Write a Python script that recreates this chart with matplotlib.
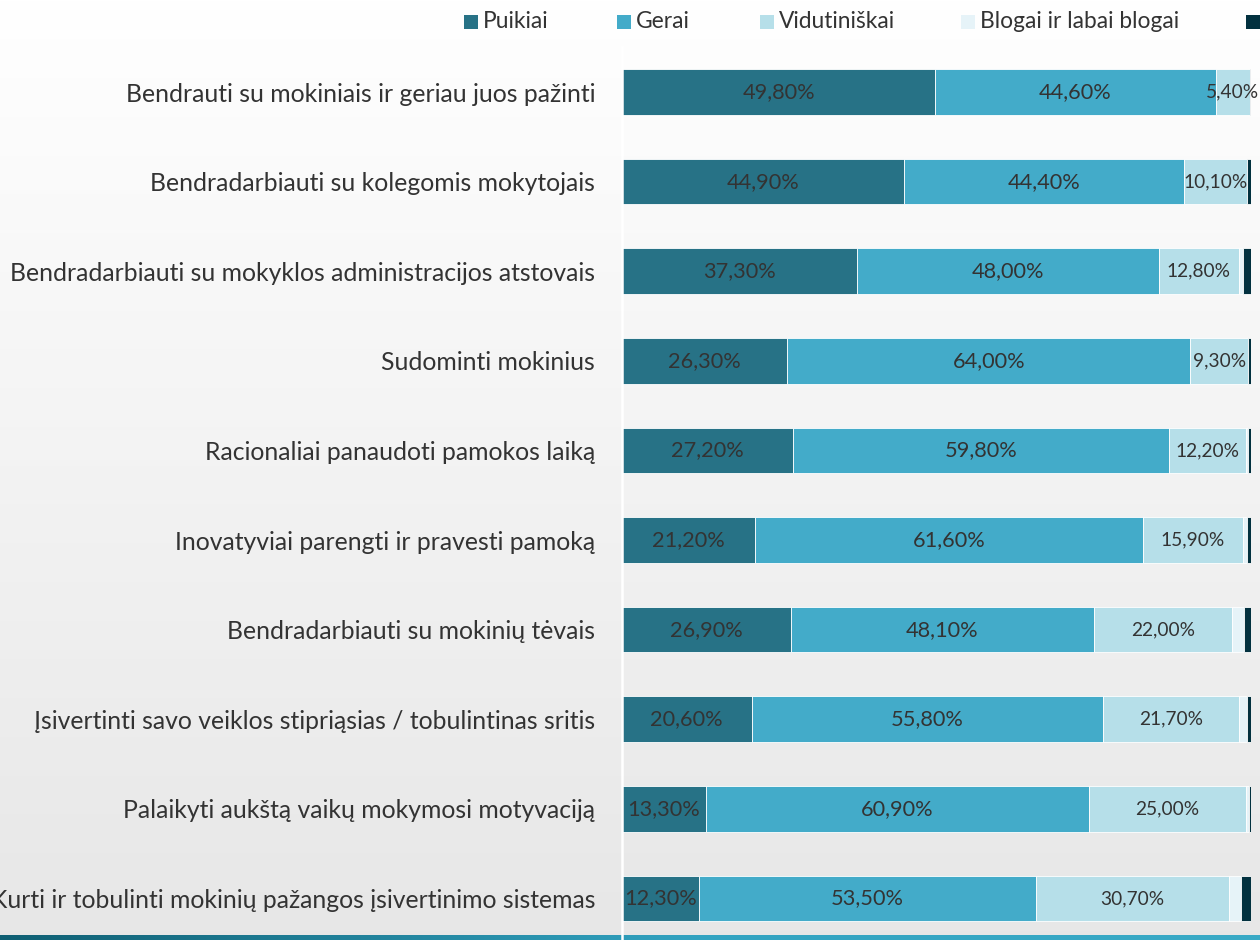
import numpy as np
import matplotlib
matplotlib.use("Agg")
import matplotlib.pyplot as plt
from matplotlib.patches import Rectangle

plt.rcParams['font.family'] = ['Lato', 'DejaVu Sans']

categories = [
    "Bendrauti su mokiniais ir geriau juos pažinti",
    "Bendradarbiauti su kolegomis mokytojais",
    "Bendradarbiauti su mokyklos administracijos atstovais",
    "Sudominti mokinius",
    "Racionaliai panaudoti pamokos laiką",
    "Inovatyviai parengti ir pravesti pamoką",
    "Bendradarbiauti su mokinių tėvais",
    "Įsivertinti savo veiklos stipriąsias / tobulintinas sritis",
    "Palaikyti aukštą vaikų mokymosi motyvaciją",
    "Kurti ir tobulinti mokinių pažangos įsivertinimo sistemas",
]
series_names = ["Puikiai", "Gerai", "Vidutiniškai", "Blogai ir labai blogai", "Kita"]
puikiai = [49.8, 44.9, 37.3, 26.3, 27.2, 21.2, 26.9, 20.6, 13.3, 12.3]
gerai = [44.6, 44.4, 48.0, 64.0, 59.8, 61.6, 48.1, 55.8, 60.9, 53.5]
vidutiniskai = [5.4, 10.1, 12.8, 9.3, 12.2, 15.9, 22.0, 21.7, 25.0, 30.7]
blogai = [0.0, 0.0, 0.6, 0.0, 0.3, 0.6, 1.9, 1.3, 0.5, 1.9]
kita = [0.3, 0.6, 1.3, 0.4, 0.5, 0.7, 1.1, 0.6, 0.3, 1.6]
colors = ["#277286", "#43abc9", "#b6dfe9", "#e6f3f8", "#02313f"]
labelled = [True, True, True, False, False]

W, H = 1260, 940
fig = plt.figure(figsize=(W / 100, H / 100), dpi=100)

# background gradient + bottom teal line
rows = np.linspace(0, 1, H)
g = 1.0 - 0.095 * rows
bg = np.ones((H, W, 3)) * g[:, None, None]
xs = np.arange(W)
r = np.interp(xs, [0, 700, W], [15, 50, 58]) / 255
gg = np.interp(xs, [0, 700, W], [95, 163, 170]) / 255
b = np.interp(xs, [0, 700, W], [115, 193, 198]) / 255
line = np.stack([r, gg, b], axis=-1)
bg[935:, :, :] = line[None, :, :]
fig.figimage(bg, xo=0, yo=0, origin='upper', zorder=0)

ax = fig.add_axes([622 / W, 0, (1251 - 622) / W, 1 - 47 / H])
ax.set_facecolor('none')
ax.set_zorder(1)

y = np.arange(len(categories))
data = [puikiai, gerai, vidutiniskai, blogai, kita]
left = np.zeros(len(categories))
for k, (vals, col) in enumerate(zip(data, colors)):
    vals = np.array(vals)
    ax.barh(y, vals, left=left, height=0.51, color=col, edgecolor='white', linewidth=0.6)
    if labelled[k]:
        fs = 15.7 if k < 2 else 13.8
        for yi, (l, v) in enumerate(zip(left, vals)):
            ax.text(l + v / 2, yi, f"{v:.2f}".replace('.', ',') + '%', ha='center', va='center',
                    fontsize=fs, color='#333333')
    left = left + vals

ax.set_xlim(0, 100)
ax.set_ylim((940 - 92) / 89.6, -(92 - 47) / 89.6)
ax.set_yticks(y, labels=categories, fontsize=17.8, color='#333333')
ax.tick_params(axis='y', length=0, pad=19.4)
ax.set_xticks([])
for s in ['top', 'right', 'bottom']:
    ax.spines[s].set_visible(False)
ax.spines['left'].set_color('white')
ax.spines['left'].set_linewidth(1.8)

# legend at top
leg_x = [464, 617, 760, 961, 1246]
for k in range(5):
    fig.add_artist(Rectangle((leg_x[k] / W, 1 - 29 / H), 14 / W, 14 / H, transform=fig.transFigure,
                             facecolor=colors[k], edgecolor='none'))
    if k < 4:
        fig.text((leg_x[k] + 19) / W, 1 - 22 / H, series_names[k], ha='left', va='center',
                 fontsize=16.4, color='#333333')

fig.savefig("out.png", dpi=100)
